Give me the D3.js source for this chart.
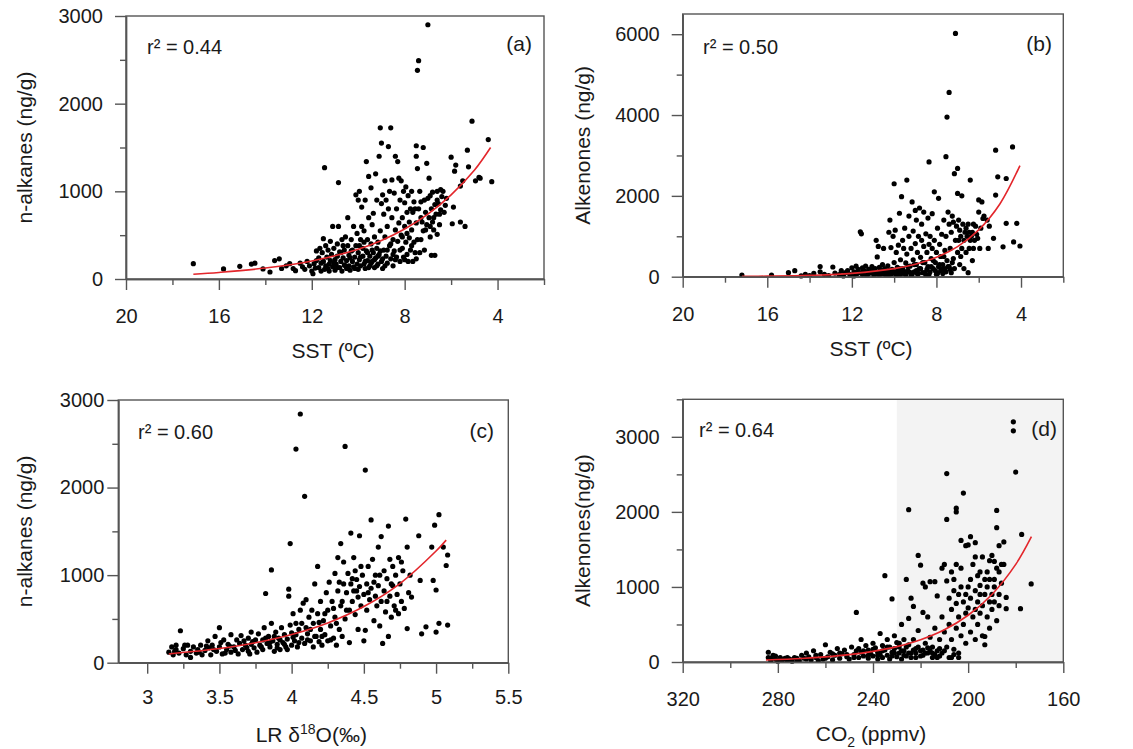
<!DOCTYPE html>
<html>
<head>
<meta charset="utf-8">
<script src="https://cdn.jsdelivr.net/npm/d3@7"></script>
<style>
  body { margin: 0; background: #fff; }
  svg text { font-family: "Liberation Sans", Arial, sans-serif; fill: #1a1a1a; }
</style>
</head>
<body>
<svg id="chart" width="1133" height="749"></svg>
<script>
// (a) SST (ºC) vs n-alkanes (ng/g)
const ptsA = [[17.1,175],[15.8,115],[15.1,145],[14.6,170],[14.45,180],[14.1,115],[13.8,80],[13.6,210],[13.4,230],[13.3,120],[13.1,150],[12.95,175],[12.8,120],[12.7,95],[12.5,180],[12.4,140],[12.3,110],[12.2,200],[12.1,150],[12.0,90],[11.95,60],[11.9,175],[11.85,125],[11.8,210],[11.8,320],
[11.7,240],[11.7,130],[11.6,180],[11.6,90],[11.55,300],[11.5,460],[11.5,200],[11.45,1270],[11.4,150],[11.4,380],[11.35,250],[11.3,120],[11.3,330],[11.25,170],[11.2,210],[11.2,430],[11.15,280],[11.1,140],[11.1,600],[11.05,350],[11.0,220],[11.0,100],[10.95,170],[10.9,400],[10.9,260],[10.85,1100],[10.85,600],[10.8,130],[10.8,310],[10.75,200],[10.7,450],[10.7,90],[10.65,240],[10.6,330],[10.6,160],[10.55,480],[10.5,210],[10.5,120],[10.45,380],[10.45,700],[10.4,270],[10.4,150],[10.35,100],[10.3,450],[10.3,320],[10.25,200],[10.2,600],[10.2,140],[10.15,250],[10.1,380],[10.1,960],[10.05,170],[10.05,520],[10.0,300],[10.0,110],[10.0,900],[9.95,220],[9.95,1000],[9.9,450],[9.9,150],[9.85,600],[9.85,820],[9.8,260],[9.8,350],[9.75,170],[9.75,550],[9.7,900],[9.7,120],[9.65,320],[9.65,1340],[9.6,450],[9.6,210],[9.55,1170],[9.55,700],[9.5,260],[9.5,150],[9.45,400],[9.45,1040],[9.4,620],[9.4,200],[9.35,300],[9.35,750],[9.3,130],[9.3,480],[9.25,1200],[9.25,240],[9.2,350],[9.2,900],[9.15,170],[9.15,420],[9.1,1400],[9.1,280],[9.05,1725],[9.05,550],[9.0,1550],[9.0,200],[9.0,860],[8.95,960],[8.95,120],[8.9,330],[8.9,740],[8.85,1120],[8.85,480],[8.8,260],[8.8,900],[8.75,180],[8.75,600],[8.7,1510],[8.7,800],[8.65,380],[8.65,1000],[8.6,1725],[8.6,230],[8.55,700],[8.55,1130],[8.5,450],[8.5,150],[8.45,980],[8.45,320],[8.4,1400],[8.4,560],[8.35,250],[8.35,800],[8.3,1340],[8.3,430],[8.25,1150],[8.25,640],[8.2,200],[8.2,900],[8.15,1120],[8.15,500],[8.1,350],[8.1,700],[8.05,1000],[8.05,250],[8.0,600],[8.0,870],[7.95,420],[7.95,1050],[7.9,760],[7.9,280],[7.85,950],[7.85,200],[7.8,650],[7.8,470],[7.75,800],[7.75,330],[7.7,1000],[7.7,560],[7.65,200],[7.65,760],[7.6,420],[7.6,880],[7.55,300],[7.55,800],[7.5,1520],[7.5,1400],[7.5,640],[7.45,2380],[7.45,1260],[7.45,450],[7.4,2490],[7.4,800],[7.35,1000],[7.35,300],[7.3,700],[7.3,880],[7.25,650],[7.2,550],[7.2,1500],[7.15,900],[7.15,330],[7.1,760],[7.05,1320],[7.05,620],[7.0,2900],[7.0,920],[6.95,700],[6.95,1150],[6.9,480],[6.9,950],[6.85,270],[6.85,800],[6.8,650],[6.8,990],[6.75,560],[6.7,270],[6.7,850],[6.65,740],[6.6,510],[6.6,1000],[6.55,860],[6.5,620],[6.45,790],[6.4,940],[6.35,1000],[6.3,760],[6.2,920],[6.0,1390],[5.95,630],[5.9,820],[5.85,1230],[5.8,1300],[5.6,1060],[5.6,650],[5.5,1120],[5.4,600],[5.3,1470],[5.25,1280],[5.1,1800],[4.95,1120],[4.8,1160],[4.75,1150],[4.4,1590],[4.25,1110],
[11.65,350],[11.45,110],[11.25,90],[11.05,180],[10.9,130],[10.75,300],[10.65,380],[10.55,150],[10.35,240],[10.25,330],[10.15,120],[9.95,380],[9.9,250],[9.75,420],[9.7,200],[9.6,300],[9.55,130],[9.45,180],[9.4,330],[9.3,220],[9.2,150],[9.15,260],[9.05,320],[8.95,230],[8.85,150],[8.75,330],[8.6,400],[8.5,280],[8.4,220],[8.2,330],[8.1,480],[8.0,220],[7.9,520],[7.7,380],[7.5,230],[7.3,450],[7.1,560],[6.9,600],[6.75,700],[6.6,900],[6.5,740],[6.45,1020],[6.25,840]];
const fitA = [[17.1,55],[16,75],[14,125],[12,205],[10,340],[9,440],[8,570],[7,740],[6,960],[5,1240],[4.3,1500]];

// (b) SST (ºC) vs Alkenones (ng/g)
const ptsB = [[17.2,40],[15.8,40],[15.0,100],[14.7,150],[14.4,20],[14.2,60],[14.0,30],[13.8,80],[13.5,250],[13.5,120],[13.3,60],[13.1,30],[12.9,240],[12.8,90],[12.6,50],[12.5,150],[12.4,20],[12.3,100],[12.2,150],[12.1,60],[12.0,220],[11.95,40],[11.9,120],[11.8,260],[11.75,80],[11.7,180],[11.6,1110],[11.55,1060],[11.5,220],[11.5,60],[11.4,140],[11.35,260],[11.3,30],[11.2,180],[11.1,90],[11.05,250],[11.0,140],[10.95,40],[10.9,200],[10.85,900],[10.8,490],[10.8,100],[10.75,750],[10.7,230],[10.65,60],[10.6,150],[10.55,300],[10.5,80],[10.5,700],[10.45,200],[10.4,40],[10.35,120],[10.3,270],[10.25,1100],[10.2,1400],[10.2,60],[10.15,720],[10.1,180],[10.05,1000],[10.0,2300],[10.0,350],[10.0,100],[9.95,1150],[9.9,40],[9.9,600],[9.85,230],[9.8,780],[9.8,130],[9.75,1570],[9.7,420],[9.7,60],[9.65,1980],[9.6,900],[9.6,200],[9.55,700],[9.5,80],[9.5,1200],[9.45,340],[9.4,2390],[9.4,560],[9.35,150],[9.3,1000],[9.3,1500],[9.25,260],[9.2,700],[9.2,40],[9.15,1850],[9.1,420],[9.1,1130],[9.05,120],[9.0,1640],[9.0,820],[8.95,300],[8.95,1400],[8.9,600],[8.9,70],[8.85,1000],[8.8,1700],[8.8,200],[8.75,480],[8.7,1300],[8.7,900],[8.65,100],[8.6,750],[8.6,1600],[8.55,350],[8.5,1060],[8.5,40],[8.45,600],[8.4,1450],[8.4,250],[8.35,2840],[8.35,800],[8.3,120],[8.3,1000],[8.25,450],[8.2,700],[8.2,1560],[8.15,200],[8.1,2100],[8.1,900],[8.05,350],[8.0,600],[8.0,60],[7.95,1200],[7.9,250],[7.9,1940],[7.85,800],[7.8,150],[7.8,500],[7.75,1050],[7.7,300],[7.7,80],[7.65,1400],[7.6,650],[7.6,200],[7.55,2970],[7.55,1000],[7.5,3950],[7.5,400],[7.45,1600],[7.4,4560],[7.4,250],[7.4,1300],[7.35,700],[7.3,1100],[7.3,100],[7.25,1500],[7.2,1350],[7.2,450],[7.15,2550],[7.1,6020],[7.1,900],[7.05,1250],[7.0,2680],[7.0,2060],[7.0,600],[6.95,1400],[6.9,300],[6.9,1150],[6.85,1000],[6.8,2000],[6.8,700],[6.75,1300],[6.7,200],[6.7,900],[6.65,1100],[6.6,600],[6.55,1000],[6.5,1300],[6.5,100],[6.45,700],[6.4,2390],[6.4,900],[6.35,1000],[6.3,400],[6.3,1100],[6.25,700],[6.2,900],[6.15,1250],[6.1,1050],[6.0,1900],[6.0,1600],[5.95,700],[5.9,1200],[5.85,1850],[5.8,1440],[5.75,1500],[5.6,1400],[5.55,700],[5.5,1250],[5.3,950],[5.2,3130],[5.2,2020],[5.1,2470],[4.85,740],[4.7,2430],[4.7,1320],[4.4,3210],[4.35,860],[4.2,1320],[4.05,760],
[11.9,20],[11.65,100],[11.45,150],[11.25,60],[11.15,120],[10.95,180],[10.75,60],[10.6,90],[10.45,100],[10.35,40],[10.25,160],[10.1,80],[9.95,120],[9.85,60],[9.75,200],[9.65,90],[9.55,140],[9.45,50],[9.35,250],[9.25,110],[9.15,60],[9.05,300],[8.95,150],[8.85,80],[8.75,200],[8.65,350],[8.55,100],[8.45,180],[8.35,60],[8.25,250],[8.15,400],[8.05,150],[7.95,80],[7.85,300],[7.75,180],[7.65,500],[7.55,120],[7.45,250],[7.35,180],[7.25,350],[7.15,200],[6.95,900],[6.85,500],[6.6,1200],[6.45,1100],[6.25,1300],[6.05,950]];
const fitB = [[17.2,8],[16,14],[14,34],[12,82],[10,200],[9,310],[8,480],[7,745],[6,1160],[5,1800],[4.05,2750]];

// (c) LR δ18O (‰) vs n-alkanes (ng/g)
const ptsC = [[3.15,120],[3.17,180],[3.18,90],[3.2,150],[3.2,200],[3.22,110],[3.23,365],[3.25,160],[3.27,90],[3.28,200],[3.3,130],[3.3,60],[3.32,180],[3.34,110],[3.35,150],[3.37,200],[3.38,90],[3.4,140],[3.42,250],[3.43,170],[3.44,90],[3.45,200],[3.47,300],[3.48,130],[3.5,400],[3.5,180],[3.52,100],[3.53,260],[3.55,150],[3.56,210],[3.58,320],[3.58,120],[3.6,180],[3.62,260],[3.63,100],[3.64,220],[3.65,310],[3.66,150],[3.68,200],[3.7,280],[3.7,130],[3.72,350],[3.72,210],[3.74,170],[3.75,260],[3.76,120],[3.77,330],[3.78,200],[3.8,260],[3.8,150],[3.81,400],[3.82,790],[3.83,220],[3.84,300],[3.85,180],[3.86,1060],[3.86,450],[3.87,250],[3.88,130],[3.89,350],[3.9,210],[3.91,280],[3.92,150],[3.93,400],[3.94,230],[3.95,320],[3.96,180],[3.97,270],[3.98,840],[3.98,760],[3.99,1360],[3.99,430],[4.0,200],[4.0,340],[4.01,560],[4.02,250],[4.03,2440],[4.03,450],[4.04,180],[4.05,380],[4.06,2840],[4.06,600],[4.07,280],[4.08,680],[4.09,1900],[4.09,220],[4.1,400],[4.1,720],[4.11,330],[4.12,520],[4.13,250],[4.14,600],[4.15,180],[4.15,450],[4.16,900],[4.17,300],[4.18,1100],[4.18,560],[4.19,240],[4.2,380],[4.2,700],[4.21,200],[4.22,480],[4.23,320],[4.24,800],[4.25,600],[4.25,250],[4.26,920],[4.27,420],[4.28,700],[4.29,280],[4.3,1020],[4.3,520],[4.31,200],[4.32,1200],[4.32,820],[4.33,380],[4.34,1360],[4.34,650],[4.35,300],[4.36,900],[4.36,1150],[4.37,2470],[4.37,500],[4.38,800],[4.39,1020],[4.4,600],[4.4,230],[4.41,1480],[4.41,900],[4.42,700],[4.43,1200],[4.43,820],[4.44,1050],[4.44,550],[4.45,950],[4.46,750],[4.46,380],[4.47,1450],[4.47,870],[4.48,650],[4.49,1000],[4.5,780],[4.5,250],[4.51,2200],[4.51,370],[4.52,900],[4.52,600],[4.53,1100],[4.54,720],[4.55,1630],[4.55,850],[4.56,1180],[4.57,480],[4.58,760],[4.58,1000],[4.59,650],[4.6,1320],[4.6,880],[4.61,420],[4.62,1440],[4.62,700],[4.63,220],[4.64,1050],[4.64,820],[4.65,580],[4.66,960],[4.67,1560],[4.67,300],[4.68,1180],[4.68,760],[4.69,520],[4.7,1100],[4.7,880],[4.71,650],[4.72,1000],[4.73,780],[4.74,1200],[4.74,560],[4.75,900],[4.76,700],[4.77,1050],[4.78,620],[4.79,1640],[4.8,390],[4.8,1320],[4.81,800],[4.82,1000],[4.83,750],[4.88,1450],[4.89,940],[4.9,330],[4.93,410],[4.97,1320],[4.98,940],[4.99,1570],[5.0,830],[5.0,350],[5.02,1690],[5.02,450],[5.05,1320],[5.07,1110],[5.08,1230],[5.08,430],
[3.19,130],[3.26,200],[3.36,120],[3.41,190],[3.46,150],[3.51,230],[3.54,110],[3.57,190],[3.61,140],[3.67,250],[3.69,170],[3.71,100],[3.73,240],[3.79,180],[3.82,280],[3.85,230],[3.88,300],[3.9,170],[3.92,260],[3.95,210],[3.97,150],[4.01,290],[4.03,320],[4.05,230],[4.07,450],[4.11,260],[4.13,380],[4.16,300],[4.19,460],[4.21,300],[4.23,560],[4.27,260],[4.29,620],[4.31,450],[4.33,920],[4.35,700],[4.38,600],[4.42,960],[4.45,820],[4.48,1100],[4.53,800],[4.57,920],[4.61,1000],[4.66,700],[4.69,900],[4.72,600],[4.76,1150]];
const fitC = [[3.15,100],[3.5,162],[3.75,228],[4,322],[4.25,454],[4.5,641],[4.75,904],[5,1275],[5.07,1400]];

// (d) CO2 (ppmv) vs Alkenones (ng/g)
const ptsD = [[284,60],[284,130],[283,20],[282,90],[281,40],[280,10],[279,60],[278,30],[277,50],[276,20],[275,40],[274,10],[273,60],[272,30],[271,20],[270,90],[269,50],[268,120],[267,70],[266,30],[265,150],[264,60],[263,20],[262,100],[261,40],[260,230],[259,70],[258,130],[257,30],[256,90],[255,180],[254,50],[253,110],[252,160],[251,70],[250,40],[249,200],[248,100],[247,660],[247,150],[246,60],[245,300],[245,130],[244,80],[243,220],[242,50],[242,160],[241,110],[240,250],[240,80],[239,190],[238,130],[238,40],[237,380],[237,100],[236,220],[236,60],[235,1150],[235,160],[234,300],[234,90],[233,200],[233,40],[232,840],[232,130],[231,350],[231,180],[230,70],[230,260],[229,200],[229,120],[228,500],[228,40],[227,300],[227,150],[226,1100],[226,80],[225,2030],[225,230],[225,580],[224,850],[224,120],[223,740],[223,300],[222,180],[222,60],[221,1420],[221,420],[220,1290],[220,150],[219,1050],[219,660],[219,90],[218,1000],[218,250],[217,600],[217,120],[216,1070],[216,330],[215,200],[215,60],[214,1070],[214,450],[213,150],[213,880],[212,300],[212,80],[211,600],[211,1250],[210,1300],[210,400],[210,150],[209,2510],[209,1900],[209,1080],[209,200],[208,850],[208,500],[208,60],[207,1200],[207,700],[207,300],[206,950],[206,1100],[206,100],[205,2050],[205,2000],[205,780],[205,450],[204,900],[204,600],[204,120],[203,1620],[203,1000],[203,350],[202,2250],[202,800],[202,500],[201,1550],[201,650],[201,250],[200,1000],[200,1560],[200,720],[199,1670],[199,400],[199,850],[198,1300],[198,600],[197,1590],[197,1400],[197,950],[197,300],[196,800],[196,1150],[196,500],[195,1200],[195,650],[195,1020],[194,750],[194,1400],[194,350],[193,230],[193,340],[193,900],[192,1000],[192,600],[192,1200],[191,800],[191,1350],[191,450],[190,1420],[190,900],[190,700],[189,1340],[189,1100],[189,800],[188,2020],[188,1250],[188,550],[188,1790],[187,900],[187,1550],[187,750],[186,1050],[186,1300],[185,1600],[184,860],[184,710],[181,3200],[181,3080],[180,2530],[178,710],[177.5,1700],[173.5,1040],
[283,50],[281,80],[279,20],[276,60],[272,50],[268,40],[264,90],[260,50],[257,110],[254,120],[251,100],[248,60],[246,180],[244,150],[242,90],[240,170],[238,90],[236,150],[234,200],[232,80],[231,120],[229,250],[228,150],[227,90],[226,200],[225,120],[224,60],[223,160],[222,120],[221,200],[220,80],[219,160],[218,120],[217,190],[216,150],[215,120],[214,100],[213,60],[212,180],[211,120],[207,60],[206,170],[204,60],[205,1300],[203,1250],[201,900],[199,1100],[197,700],[195,900],[193,1100],[191,1100],[189,1000],[187,1200],[185,1300]];
const fitD = [[285,27],[270,47],[260,68],[250,98],[240,142],[230,205],[220,297],[210,430],[200,623],[190,900],[180,1300],[173.4,1669]];

// tick values
const sstMajor = [20, 16, 12, 8, 4], sstMinor = [18, 14, 10, 6, 2];
const d18Major = [3, 3.5, 4, 4.5, 5, 5.5], d18Minor = [3.25, 3.75, 4.25, 4.75, 5.25];
const co2Major = [320, 280, 240, 200, 160], co2Minor = [300, 260, 220, 180];
const y3kMajor = [0, 1000, 2000, 3000], y3kMinor = [500, 1500, 2500];
const y6kMajor = [0, 2000, 4000, 6000], y6kMinor = [1000, 3000, 5000];
const rSquared = ['0.44', '0.50', '0.60', '0.64'];
const panelTags = ['(a)', '(b)', '(c)', '(d)'];

const svg = d3.select('#chart');
const axisColor = '#555';

const panels = [
  { pts: ptsA, fit: fitA, xd: [20, 2], yd: [0, 3000], box: [126, 544, 16, 279],
    xMaj: sstMajor, xMin: sstMinor, yMaj: y3kMajor, yMin: y3kMinor,
    xPad: 19, yPad: 12, yTitle: 'n-alkanes (ng/g)', xTitle: 'sst', r: [147, 54], tag: [532, 51], yTitleX: 32 },
  { pts: ptsB, fit: fitB, xd: [20, 2], yd: [0, 6500], box: [682.7, 1063.3, 14, 276.7],
    xMaj: sstMajor, xMin: sstMinor, yMaj: y6kMajor, yMin: y6kMinor,
    xPad: 19, yPad: 12, yTitle: 'Alkenones (ng/g)', xTitle: 'sst', r: [703, 54], tag: [1052, 51], yTitleX: 590 },
  { pts: ptsC, fit: fitC, xd: [2.8, 5.5], yd: [0, 3000], box: [118.3, 508.3, 400, 662.7],
    xMaj: d18Major, xMin: d18Minor, yMaj: y3kMajor, yMin: y3kMinor,
    xPad: 16, yPad: 3, yTitle: 'n-alkanes (ng/g)', xTitle: 'd18', r: [138, 439], tag: [494, 438], yTitleX: 32 },
  { pts: ptsD, fit: fitD, xd: [320, 160], yd: [0, 3500], box: [682.7, 1063.3, 399.3, 662],
    xMaj: co2Major, xMin: co2Minor, yMaj: y3kMajor, yMin: y3kMinor.concat([3500]),
    xPad: 19, yPad: 12, yTitle: 'Alkenones(ng/g)', xTitle: 'co2', r: [699, 437], tag: [1057, 436], yTitleX: 590,
    shade: [230, 160] }
];

function styleAxis(sel) {
  sel.attr('font-size', null).attr('font-family', null);
  sel.select('.domain').attr('stroke', axisColor).attr('stroke-width', 1.4);
  sel.selectAll('.tick line').attr('stroke', axisColor).attr('stroke-width', 1.4);
  sel.selectAll('.tick text').style('font-size', '20px').attr('fill', '#1a1a1a');
}

panels.forEach(function (p, i) {
  const [L, R, T, B] = p.box;
  const x = d3.scaleLinear().domain(p.xd).range([L, R]);
  const y = d3.scaleLinear().domain(p.yd).range([B, T]);
  const g = svg.append('g');

  if (p.shade) {
    g.append('rect')
      .attr('x', x(p.shade[0])).attr('y', T)
      .attr('width', x(p.shade[1]) - x(p.shade[0])).attr('height', B - T)
      .attr('fill', '#f3f3f3');
  }

  g.append('rect')
    .attr('x', L).attr('y', T).attr('width', R - L).attr('height', B - T)
    .attr('fill', 'none').attr('stroke', axisColor).attr('stroke-width', 1.4);

  g.append('g').selectAll('circle')
    .data(p.pts)
    .join('circle')
    .attr('cx', d => x(d[0]))
    .attr('cy', d => y(d[1]))
    .attr('r', 2.6)
    .attr('fill', '#000');

  g.append('path')
    .datum(p.fit)
    .attr('d', d3.line().x(d => x(d[0])).y(d => y(d[1])).curve(d3.curveCatmullRom))
    .attr('fill', 'none')
    .attr('stroke', '#e3262b')
    .attr('stroke-width', 1.6);

  // x axis: major with labels, minor without
  g.append('g').attr('transform', `translate(0,${B})`)
    .call(d3.axisBottom(x).tickValues(p.xMaj).tickSize(11).tickSizeOuter(0).tickPadding(p.xPad).tickFormat(d3.format('')))
    .call(styleAxis);
  g.append('g').attr('transform', `translate(0,${B})`)
    .call(d3.axisBottom(x).tickValues(p.xMin).tickSize(6).tickSizeOuter(0).tickFormat(''))
    .call(styleAxis);

  // y axis
  g.append('g').attr('transform', `translate(${L},0)`)
    .call(d3.axisLeft(y).tickValues(p.yMaj).tickSize(11).tickSizeOuter(0).tickPadding(p.yPad).tickFormat(d3.format('')))
    .call(styleAxis);
  g.append('g').attr('transform', `translate(${L},0)`)
    .call(d3.axisLeft(y).tickValues(p.yMin).tickSize(6).tickSizeOuter(0).tickFormat(''))
    .call(styleAxis);

  // y title
  g.append('text')
    .attr('transform', `translate(${p.yTitleX},${(T + B) / 2}) rotate(-90)`)
    .attr('text-anchor', 'middle')
    .style('font-size', '21px')
    .text(p.yTitle);

  // x title
  const xt = g.append('text')
    .attr('x', (L + R) / 2 - 2)
    .attr('y', B + 79)
    .attr('text-anchor', 'middle')
    .style('font-size', '21px');
  if (p.xTitle === 'sst') {
    xt.text('SST (ºC)');
  } else if (p.xTitle === 'd18') {
    xt.append('tspan').text('LR δ');
    xt.append('tspan').attr('dy', -8).style('font-size', '14px').text('18');
    xt.append('tspan').attr('dy', 8).text('O(‰)');
  } else {
    xt.append('tspan').text('CO');
    xt.append('tspan').attr('dy', 6).style('font-size', '14px').text('2');
    xt.append('tspan').attr('dy', -6).text(' (ppmv)');
  }

  // r² annotation and panel tag
  g.append('text')
    .attr('x', p.r[0]).attr('y', p.r[1])
    .style('font-size', '20px')
    .text('r² = ' + rSquared[i]);
  g.append('text')
    .attr('x', p.tag[0]).attr('y', p.tag[1])
    .attr('text-anchor', 'end')
    .style('font-size', '21px')
    .text(panelTags[i]);
});
</script>
</body>
</html>
